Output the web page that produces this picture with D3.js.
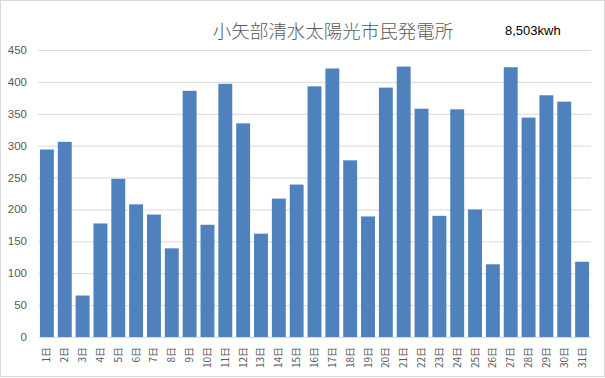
<!DOCTYPE html>
<html>
<head>
<meta charset="utf-8">
<script src="https://cdn.jsdelivr.net/npm/d3@7"></script>
<style>
  body { margin: 0; background: #fff; }
  .tick-label { font-family: "Liberation Sans", "Noto Sans", sans-serif; fill: #595959; }
  .day-label { font-family: "Noto Sans CJK JP", sans-serif; fill: #595959; }
</style>
</head>
<body>
<div id="chart"></div>
<script>
const days = ["1日","2日","3日","4日","5日","6日","7日","8日","9日","10日","11日","12日","13日","14日","15日","16日",
    "17日","18日","19日","20日","21日","22日","23日","24日","25日","26日","27日","28日","29日","30日","31日"];
const output = [294, 306, 65, 178, 248, 208, 192, 139, 386, 176, 397, 335, 162, 217, 239, 393,
    421, 277, 189, 391, 424, 358, 190, 357, 200, 114, 423, 344, 379, 369, 118];
const yTicks = [0, 50, 100, 150, 200, 250, 300, 350, 400, 450];
const titleText = "小矢部清水太陽光市民発電所";
const totalText = "8,503kwh";

const W = 605, H = 378;
const margin = { top: 50, right: 14, bottom: 41, left: 38 };
const width = W - margin.left - margin.right;
const height = H - margin.top - margin.bottom;

const svg = d3.select("#chart")
    .append("svg")
    .attr("width", W)
    .attr("height", H);

// outer chart border
svg.append("rect")
    .attr("x", 0.5).attr("y", 0.5)
    .attr("width", W - 1).attr("height", H - 2)
    .attr("fill", "#fff")
    .attr("stroke", "#d9d9d9");

const g = svg.append("g")
    .attr("transform", `translate(${margin.left},${margin.top})`);

const x = d3.scaleBand()
    .domain(days)
    .range([0, width])
    .paddingInner(0.22)
    .paddingOuter(0.11);

const y = d3.scaleLinear()
    .domain([0, 450])
    .range([height, 0]);

// grid lines
g.append("g")
    .call(d3.axisLeft(y).tickValues(yTicks).tickSize(-width).tickFormat(""))
    .call(a => a.select(".domain").remove())
    .selectAll("line")
    .attr("stroke", "#d9d9d9")
    .attr("stroke-width", 1);

// y labels
g.selectAll(".tick-label")
    .data(yTicks)
    .enter()
    .append("text")
    .attr("class", "tick-label")
    .attr("x", -11)
    .attr("y", d => y(d) + 4)
    .attr("text-anchor", "end")
    .style("font-size", "11.5px")
    .text(d => d);

// bars
g.selectAll(".bar")
    .data(output)
    .enter()
    .append("rect")
    .attr("class", "bar")
    .attr("x", (d, i) => x(days[i]))
    .attr("y", d => y(d))
    .attr("width", x.bandwidth())
    .attr("height", d => height - y(d))
    .attr("fill", "#4f81bd");

// baseline
g.append("line")
    .attr("x1", 0).attr("x2", width)
    .attr("y1", height + 0.5).attr("y2", height + 0.5)
    .attr("stroke", "#d9d9d9");

// x labels, rotated
g.selectAll(".day-label")
    .data(days)
    .enter()
    .append("text")
    .attr("class", "day-label")
    .attr("transform", d => `translate(${x(d) + x.bandwidth() / 2 + 3.5},${height + 10}) rotate(-90)`)
    .attr("text-anchor", "end")
    .style("font-size", "10px")
    .text(d => d);

// title
svg.append("text")
    .attr("x", 333)
    .attr("y", 38)
    .attr("text-anchor", "middle")
    .style("font-family", "'Noto Sans CJK JP', sans-serif")
    .style("font-weight", "300")
    .style("font-size", "18.5px")
    .style("fill", "#595959")
    .text(titleText);

svg.append("text")
    .attr("x", 505)
    .attr("y", 35)
    .style("font-family", "'Liberation Sans', sans-serif")
    .style("font-size", "13px")
    .style("fill", "#000")
    .text(totalText);
</script>
</body>
</html>
